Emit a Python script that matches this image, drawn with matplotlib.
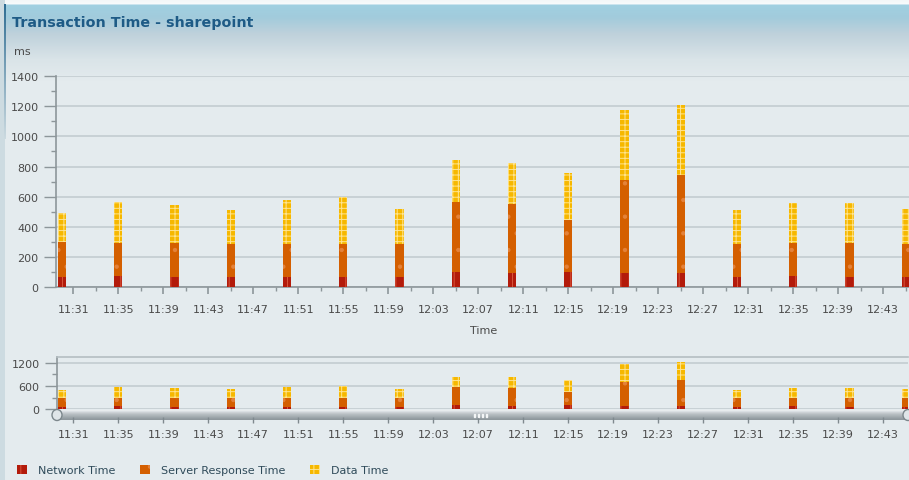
import matplotlib

matplotlib.use("Agg")
import matplotlib.pyplot as plt
from matplotlib.patches import Patch, Ellipse, Rectangle
from matplotlib.ticker import FixedLocator
import numpy as np

# sample times (every 5 minutes) and stacked components in ms
TIMES = ["11:30", "11:35", "11:40", "11:45", "11:50", "11:55", "12:00", "12:05",
         "12:10", "12:15", "12:20", "12:25", "12:30", "12:35", "12:40", "12:45"]
NETWORK = [66, 75, 66, 66, 66, 66, 66, 103, 95, 101, 95, 95, 66, 73, 66, 66]
SERVER = [232, 218, 227, 221, 221, 221, 221, 464, 459, 345, 618, 651, 221, 220, 227, 221]
DATA = [194, 270, 250, 227, 289, 311, 234, 276, 269, 311, 461, 463, 223, 263, 263, 233]

TICK_LABELS = ["11:31", "11:35", "11:39", "11:43", "11:47", "11:51", "11:55", "11:59",
               "12:03", "12:07", "12:11", "12:15", "12:19", "12:23", "12:27", "12:31",
               "12:35", "12:39", "12:43"]
MAIN_YTICKS = [0, 200, 400, 600, 800, 1000, 1200, 1400]
NAV_YTICKS = [0, 600, 1200]

SERIES = [
    ("Network Time", "#b31b0b", "#d8563c", "||"),
    ("Server Response Time", "#d45f00", "#e4823a", "."),
    ("Data Time", "#f6b800", "#ffe48e", "+++"),
]

W, H = 909, 481
PPM = 11.25  # pixels per minute on both time axes


def minutes(label):
    h, m = label.split(":")
    return (int(h) - 11) * 60 + int(m) - 30


def box(left, top, right, bottom):
    return [left / W, 1 - bottom / H, (right - left) / W, (bottom - top) / H]


def hexrgb(c):
    return np.array([int(c[i:i + 2], 16) / 255 for i in (1, 3, 5)])


x = np.array([minutes(t) for t in TIMES], dtype=float)
tick_pos = [minutes(t) for t in TICK_LABELS]
minor_pos = [p + 2 for p in tick_pos]
values = [np.array(NETWORK), np.array(SERVER), np.array(DATA)]

plt.rcParams["font.family"] = "DejaVu Sans"
plt.rcParams["hatch.linewidth"] = 0.7

fig = plt.figure(figsize=(W / 100, H / 100), dpi=100)

# ---- background: body colour, header gradient, left border
body = hexrgb("#e4ebee")
bg = np.tile(body, (H, W, 1))
stops = [(0, "#f2f6f8"), (4, "#f7fafb"), (6, "#a0d0e1"), (18, "#a2cbdc"),
         (34, "#bed1db"), (60, "#dae4e8"), (82, "#e4ebee")]
for (y0, c0), (y1, c1) in zip(stops[:-1], stops[1:]):
    a, b = hexrgb(c0), hexrgb(c1)
    for y in range(y0, y1):
        t = (y - y0) / max(y1 - y0, 1)
        bg[y, :, :] = a * (1 - t) + b * t
bg[:, 0:5, :] = hexrgb("#cddbe1")
line_top, line_bot = hexrgb("#2f6d93"), hexrgb("#cddbe1")
for y in range(5, 140):
    t = (y - 5) / 135
    bg[y, 4:6, :] = line_top * (1 - t) + line_bot * t
bg_ax = fig.add_axes([0, 0, 1, 1], zorder=-10)
bg_ax.imshow(bg, aspect="auto", interpolation="bilinear")
bg_ax.axis("off")

tick_color = "#8d969a"
label_color = "#4a4a4a"


def draw_bars(ax):
    bottom = np.zeros(len(x))
    for (name, face, hatch_col, hatch), vals in zip(SERIES, values):
        ax.bar(x, vals, width=0.72, bottom=bottom, color=face, edgecolor=hatch_col,
               hatch=hatch, linewidth=0, zorder=3, label=name)
        bottom = bottom + vals


# ---- main chart
ax = fig.add_axes(box(56, 77, 909, 288.3))
ax.set_facecolor("none")
draw_bars(ax)
ax.set_xlim(-6 / PPM, (909 - 62) / PPM)
ax.set_ylim(0, 1400)
ax.set_yticks(MAIN_YTICKS)
ax.yaxis.set_minor_locator(FixedLocator([v + 100 for v in MAIN_YTICKS[:-1]]))
ax.xaxis.set_major_locator(FixedLocator(tick_pos))
ax.set_xticklabels(TICK_LABELS)
ax.xaxis.set_minor_locator(FixedLocator(minor_pos))
ax.yaxis.grid(True, color="#c6cfd3", linewidth=1.3, zorder=0)
ax.set_axisbelow(True)
for side in ("top", "right"):
    ax.spines[side].set_visible(False)
for side in ("left", "bottom"):
    ax.spines[side].set_color(tick_color)
    ax.spines[side].set_linewidth(1.2)
ax.tick_params(axis="y", which="major", length=8.6, width=1, color=tick_color,
               pad=4, labelsize=8, labelcolor=label_color)
ax.tick_params(axis="y", which="minor", length=3.6, width=1, color=tick_color)
ax.tick_params(axis="x", which="major", length=5, width=1.2, color=tick_color,
               pad=6.8, labelsize=8, labelcolor=label_color)
ax.tick_params(axis="x", which="minor", length=3, width=1, color=tick_color)

# ---- navigator chart
nav = fig.add_axes(box(57, 357.7, 908, 410.3))
nav.set_facecolor("none")
draw_bars(nav)
nav.set_xlim(-5 / PPM, (908 - 62) / PPM)
nav.set_ylim(0, 1355)
nav.set_yticks(NAV_YTICKS)
nav.yaxis.set_minor_locator(FixedLocator([300, 900]))
nav.set_xticks([])
nav.yaxis.grid(True, color="#c6cfd3", linewidth=1.3, zorder=0)
nav.set_axisbelow(True)
nav.spines["right"].set_visible(False)
nav.spines["bottom"].set_visible(False)
nav.spines["top"].set_color("#b4bec2")
nav.spines["top"].set_linewidth(1.2)
nav.spines["left"].set_color(tick_color)
nav.spines["left"].set_linewidth(1.2)
nav.tick_params(axis="y", which="major", length=8.6, width=1, color=tick_color,
                pad=4, labelsize=8, labelcolor=label_color)
nav.tick_params(axis="y", which="minor", length=3.6, width=1, color=tick_color)

# ---- scrollbar with the navigator time axis
scroll = fig.add_axes(box(57, 411, 908, 421))
grad = np.array([hexrgb(c) for c in ["#f0f3f4", "#dde2e5", "#c6ccd0", "#b6bdc1",
                                      "#a9b1b5", "#9ba4a9", "#8f989d"]])
scroll.imshow(grad[:, None, :], aspect="auto", interpolation="bilinear",
              extent=(*nav.get_xlim(), 0, 1))
scroll.set_xlim(nav.get_xlim())
scroll.set_ylim(0, 1)
scroll.set_yticks([])
scroll.xaxis.set_major_locator(FixedLocator(tick_pos))
scroll.set_xticklabels(TICK_LABELS)
for s in scroll.spines.values():
    s.set_visible(False)
scroll.tick_params(axis="x", length=4, width=1, direction="inout", color="#7f898e",
                   pad=4.8, labelsize=8, labelcolor=label_color)
for gx in (474, 478, 482, 486):
    fig.patches.append(Rectangle((gx / W, 1 - 418 / H), 1.2 / W, 3 / H,
                                 transform=fig.transFigure, color="#f4f6f7", zorder=5))
for hx in (57, 908):
    fig.patches.append(Ellipse((hx / W, 1 - 416 / H), 10 / W, 11 / H,
                               transform=fig.transFigure, facecolor="#dfe5e8",
                               edgecolor="#7c878c", linewidth=1, zorder=5))

# ---- texts
fig.text(12 / W, 1 - 22.5 / H, "Transaction Time - sharepoint", fontsize=10.3,
         fontweight="bold", color="#1e5b86", va="center", ha="left")
fig.text(14 / W, 1 - 52 / H, "ms", fontsize=8, color=label_color, va="center")
fig.text(484 / W, 1 - 331 / H, "Time", fontsize=8, color=label_color,
         va="center", ha="center")

handles = [Patch(facecolor=face, edgecolor=hc, hatch=hatch, linewidth=0, label=name)
           for name, face, hc, hatch in SERIES]
fig.legend(handles=handles, loc="center left", bbox_to_anchor=(17 / W, 1 - 471 / H),
           ncol=3, frameon=False, fontsize=8, handlelength=0.9, handleheight=0.9,
           handletextpad=1.0, columnspacing=2.2, borderpad=0, borderaxespad=0,
           labelcolor="#2f4b5a")

fig.savefig("out.png", dpi=100)
plt.close(fig)
